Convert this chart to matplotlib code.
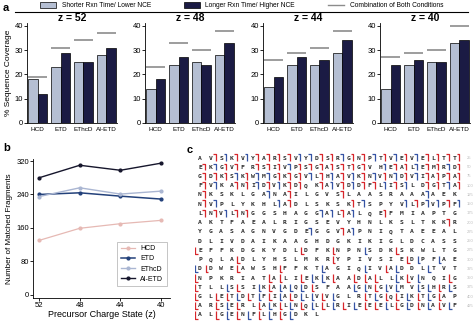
import matplotlib
matplotlib.use('Agg')
import matplotlib.pyplot as plt
from matplotlib.lines import Line2D
from matplotlib.patches import Patch
from matplotlib.collections import LineCollection

plt.rcParams['font.family'] = ['Liberation Sans', 'DejaVu Sans']

# panel a: % sequence coverage per charge state
methods = ['HCD', 'ETD', 'EThcD', 'AI-ETD']
charges = ['52', '48', '44', '40']
shorter = [[18, 23, 25, 28], [14, 24, 25, 28], [15, 24, 24, 29], [14, 24, 25, 33]]
longer = [[12, 29, 25, 31], [18, 27, 24, 33], [19, 27, 26, 34], [24, 26, 25, 34]]
combined = [[19, 31, 34, 37], [23, 33, 30, 38], [26, 29, 31, 38], [27, 29, 30, 40]]

# panel b: matched fragments
frag_charges = ['52', '48', '44', '40']
hcd_frags = [130, 159, 170, 178]
etd_frags = [240, 244, 236, 229]
ethcd_frags = [235, 256, 241, 248]
aietd_frags = [280, 310, 298, 315]

# panel c: sequence map, marks r = red, b = blue
seq_rows = ['AVSKVYARSVYDSRGNPTVEVELTT', 'EKGVFRSIVPSGASTGVHEALEMRD',
            'GDKSKWMGKGVLHAVKNVNDVIAPA', 'FVKANIDVKDQKAVDDFLISLDGTA',
            'NKSKLGANAILGVSLAASRAAAAEK', 'NVPLYKHLADLSKSKTSPYVLPVPF',
            'LNVLNGGSHAGGALALQEFMIAPTG', 'AKTFAEALRIGSEVYHNLKSLTKKR',
            'YGASAGNVGDEGGVAPNIQTAEEAL', 'DLIVDAIKAAGHDGKIKIGLDCASS',
            'EFFKDGKYDLDFKNPNSDKSKWLTG', 'PQLADLYHSLMKRYPIVSIEDPFAE',
            'DDWEAWSHFFKTAGIQIVADDLTVT', 'NPKRIATALIEKKAADALLKVNQIG',
            'TLLSSIKAAQDSFAAGNGVMVSHRS', 'GLETDTFIADLVVGLRTGQIKTGAP',
            'ARSERLAKLNQLLRIEEELGDNAVF', 'ALGENFLHGDKL']
mark_rows = ['.rbrbrrrrbbrrbrrbrbrbrrrr', 'rbrr.rrrbrrrrrrr.brrbrrbr',
             'rrrbrbbrrrbrbrbrbrbrbrrrr', 'rb.rrbrbrr.rbrbrrbrb.rrbr',
             'r.....b.r....r.......b...', 'rb.....br.....rb...brbbrb',
             'rrbrr......bbrb..r.......', '.......................r.',
             '..........b..rb..........', '.........................',
             'r.........r..r..b..r.....', '....r........r......rb.b.',
             'br..r...r...b...b.rb..b..', 'r......rr.rbbr.rrr.brb..r',
             'r..br.brbbbr...bbrbb.bbrb', 'r.rrbrbrbrbbrb..rbrrbrbr.',
             'r.rbr.rbrbrbrbrbrrbrbrbrb', 'r.rbrbrbrb..']
n_top_rows = 10

light = '#b5bfd3'
dark = '#1b1b44'
grey = '#8c8c8c'
W, H = 474, 321


def px(x0, y0, x1, y1):
    return [x0 / W, 1 - y1 / H, (x1 - x0) / W, (y1 - y0) / H]


fig = plt.figure(figsize=(4.74, 3.21), dpi=100)

# ---- panel a ----
xs = list(range(len(methods)))
for k, left in enumerate([27, 145, 263, 380]):
    ax = fig.add_axes(px(left, 23.4, left + 90, 123))
    ax.bar([x - 0.205 for x in xs], shorter[k], 0.41, color=light,
           edgecolor='black', linewidth=0.5)
    ax.bar([x + 0.205 for x in xs], longer[k], 0.41, color=dark,
           edgecolor='black', linewidth=0.5)
    ax.hlines(combined[k], [x - 0.42 for x in xs], [x + 0.42 for x in xs],
              color=grey, linewidth=1.2)
    ax.set_xlim(-0.46, 3.46)
    ax.set_ylim(0, 41)
    ax.set_yticks([0, 10, 20, 30, 40])
    ax.set_xticks(xs)
    ax.set_xticklabels(methods)
    ax.tick_params(axis='x', length=0, labelsize=4.6, pad=3)
    ax.tick_params(axis='y', length=2, labelsize=5.5, pad=1, width=0.6)
    for s in ['top', 'right']:
        ax.spines[s].set_visible(False)
    for s in ['left', 'bottom']:
        ax.spines[s].set_linewidth(0.6)
    ax.set_title('z = ' + charges[k], fontsize=7.5, fontweight='bold', pad=1.5)
    if k == 0:
        ax.set_ylabel('% Sequence Coverage', fontsize=6, labelpad=2)

handles = [Patch(facecolor=light, edgecolor='black', linewidth=0.5),
           Patch(facecolor=dark, edgecolor='black', linewidth=0.5),
           Line2D([], [], color=grey, linewidth=1)]
fig.legend(handles, ['Shorter Rxn Time/ Lower NCE', 'Longer Rxn Time/ Higher NCE',
                     'Combination of Both Conditions'],
           loc='center', bbox_to_anchor=(0.51, 1 - 5.5 / H), ncol=3, frameon=False,
           fontsize=4.8, handlelength=2.4, handleheight=0.9, columnspacing=5,
           handletextpad=0.8, borderpad=0)
fig.add_artist(Line2D([15 / W, 468 / W], [1 - 12 / H] * 2, color='black', lw=0.8))

# ---- panel b ----
axb = fig.add_axes(px(33, 159, 170, 298))
xb = list(range(len(frag_charges)))
axb.plot(xb, hcd_frags, color='#e6b9b4', marker='o', markersize=2, lw=0.9, label='HCD')
axb.plot(xb, etd_frags, color='#23417a', marker='o', markersize=2, lw=1.1, label='ETD')
axb.plot(xb, ethcd_frags, color='#aab6d2', marker='o', markersize=2, lw=1.0, label='EThcD')
axb.plot(xb, aietd_frags, color='#16162c', marker='o', markersize=2, lw=1.0, label='AI-ETD')
axb.set_xlim(-0.15, 3.22)
axb.set_ylim(-8, 325)
axb.set_xticks(xb)
axb.set_xticklabels(frag_charges)
axb.set_yticks([0, 80, 160, 240, 320])
axb.tick_params(labelsize=5.5, length=2, width=0.6, pad=1)
for s in ['top', 'right']:
    axb.spines[s].set_visible(False)
for s in ['left', 'bottom']:
    axb.spines[s].set_linewidth(0.6)
axb.set_xlabel('Precursor Charge State (z)', fontsize=6.5, labelpad=0.5)
axb.set_ylabel('Number of Matched Fragments', fontsize=5.8, labelpad=2)
leg = axb.legend(loc='lower right', bbox_to_anchor=(1.0, 0.06), fontsize=5,
                 handlelength=2, frameon=True, fancybox=False, borderpad=0.5,
                 labelspacing=0.45)
leg.get_frame().set_edgecolor('#999999')
leg.get_frame().set_linewidth(0.5)

# ---- panel c ----
axc = fig.add_axes(px(195, 152, 474, 321))
axc.set_xlim(-0.47, 25.85)
axc.set_ylim(17.65, -0.65)
axc.axis('off')
segs, cols = [], []
for r, row in enumerate(seq_rows):
    for i, ch in enumerate(row):
        axc.text(i, r, ch, ha='center', va='center', fontsize=4.6,
                 family='DejaVu Sans Mono', fontweight='bold', color='#2e2e2e')
        m = mark_rows[r][i]
        if m == '.':
            continue
        if r < n_top_rows:
            segs.append([(i + 0.47, r + 0.35), (i + 0.47, r - 0.4), (i + 0.22, r - 0.4)])
        else:
            segs.append([(i - 0.47, r - 0.4), (i - 0.47, r + 0.38), (i - 0.22, r + 0.38)])
        cols.append('#d7262b' if m == 'r' else '#3553a4')
    if r < 17:
        axc.text(25.15, r, str(25 * (r + 1)), ha='left', va='center',
                 fontsize=3, color='#bdbdbd')
axc.add_collection(LineCollection(segs, colors=cols, linewidths=0.9))

# panel letters
fig.text(3 / W, 1 - 8 / H, 'a', fontsize=8, fontweight='bold', va='center')
fig.text(3 / W, 1 - 148 / H, 'b', fontsize=8, fontweight='bold', va='center')
fig.text(187 / W, 1 - 150 / H, 'c', fontsize=8, fontweight='bold', va='center')

fig.savefig('out.png', dpi=100)
